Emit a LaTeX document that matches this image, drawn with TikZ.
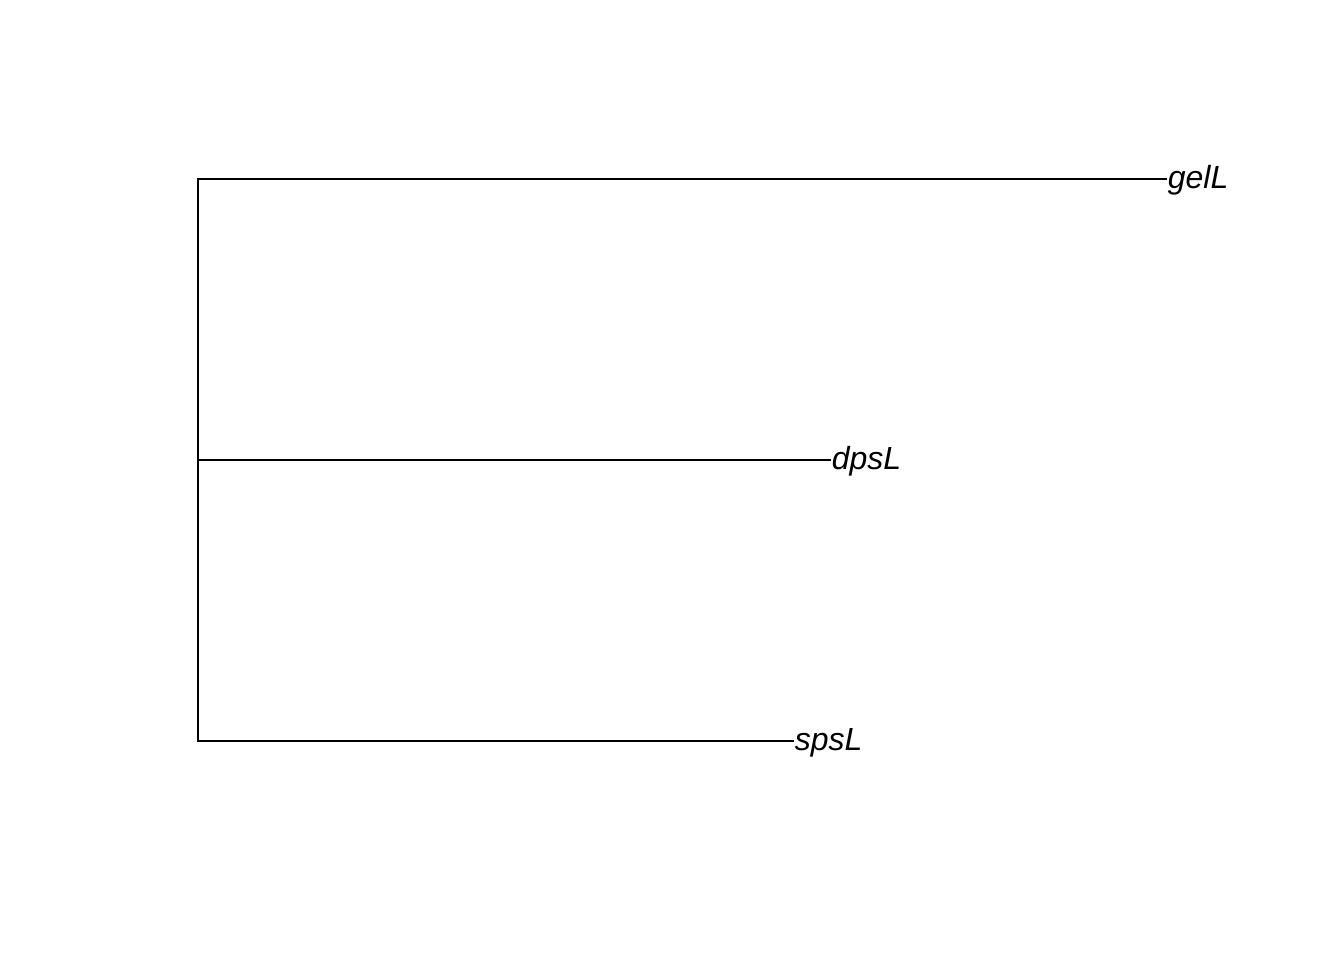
\documentclass[tikz,border=0pt]{standalone}
\usepackage{fontspec}
\setmainfont{Liberation Sans}
\begin{document}
\begin{tikzpicture}[x=0.75pt,y=-0.75pt,
  branch/.style={line width=1.5pt,line cap=rect},
  leaf/.style={anchor=base west,inner sep=0pt,font=\fontsize{24}{28}\selectfont\itshape}]
\useasboundingbox[fill=white] (0,0) rectangle (1344,960);
\coordinate (top) at (198,179);
\coordinate (mid) at (198,460);
\coordinate (bot) at (198,741);
\coordinate (e1) at (1166,179);
\coordinate (e2) at (830,460);
\coordinate (e3) at (793,741);
\node[leaf] (gelL) at ([xshift=1.2pt,yshift=-7.2pt]e1) {gelL};
\node[leaf] (dpsL) at ([xshift=1.2pt,yshift=-7.2pt]e2) {dpsL};
\node[leaf] (spsL) at ([xshift=1.2pt,yshift=-7.2pt]e3) {spsL};
\draw[branch] (top) -- (bot);
\draw[branch] (top) -- (e1);
\draw[branch] (mid) -- (e2);
\draw[branch] (bot) -- (e3);
\end{tikzpicture}
\end{document}
